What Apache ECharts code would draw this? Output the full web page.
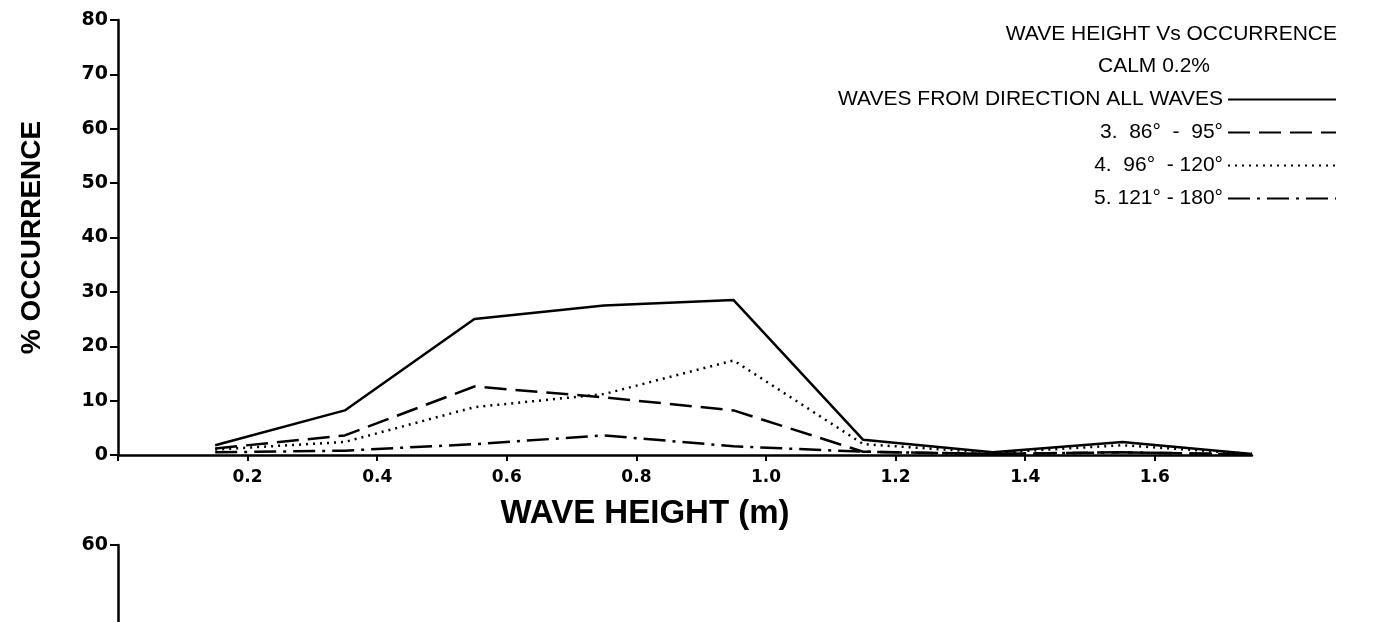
<!DOCTYPE html>
<html>
<head>
<meta charset="utf-8">
<script src="https://cdn.jsdelivr.net/npm/echarts@6/dist/echarts.min.js"></script>
<style>
  html, body { margin: 0; padding: 0; background: #fff; }
  #chart { width: 1378px; height: 622px; }
</style>
</head>
<body>
<div id="chart"></div>
<script>
// wave height bins (m) and % occurrence per direction
var heights = [0.15, 0.35, 0.55, 0.75, 0.95, 1.15, 1.35, 1.55, 1.75]
var allWaves = [1.8, 8.2, 25.0, 27.5, 28.5, 2.8, 0.5, 2.4, 0.2]
var dir86to95 = [1.2, 3.6, 12.6, 10.6, 8.2, 0.6, 0.2, 0.5, 0.1]
var dir96to120 = [1.0, 2.4, 8.8, 11.2, 17.4, 2.0, 0.4, 1.8, 0.2]
var dir121to180 = [0.5, 0.8, 2.0, 3.6, 1.6, 0.6, 0.2, 0.5, 0.1]

var seriesNames = [
  'WAVES FROM DIRECTION ALL WAVES',
  '3.  86°  -  95°',
  '4.  96°  - 120°',
  '5. 121° - 180°'
]
var seriesValues = [allWaves, dir86to95, dir96to120, dir121to180]
var dashTypes = ['solid', [22, 9], [2, 5], [22, 7, 3, 7]]

var font = 'Liberation Sans, Arial, sans-serif'
var tickFont = 'DejaVu Sans, Liberation Sans, sans-serif'

function pairs(values) {
  return heights.map(function(h, i) { return [h, values[i]] })
}

var chart = echarts.init(document.getElementById('chart'))

var series = seriesNames.map(function(name, i) {
  return {
    name: name,
    type: 'line',
    xAxisIndex: 0,
    yAxisIndex: 0,
    symbol: 'none',
    data: pairs(seriesValues[i]),
    lineStyle: { color: '#000', width: 2.5, type: dashTypes[i] },
    itemStyle: { color: '#000' }
  }
})

var axisStyle = { color: '#000', width: 2.5 }
var tickStyle = { color: '#000', width: 2 }
var labelStyle = { color: '#000', fontFamily: tickFont, fontSize: 19, fontWeight: 'bold' }

var option = {
  animation: false,
  backgroundColor: '#fff',
  textStyle: { fontFamily: font, color: '#000' },
  title: [
    {
      text: 'WAVE HEIGHT Vs OCCURRENCE',
      right: 36,
      top: 19,
      textStyle: { fontFamily: font, fontSize: 21, fontWeight: 'normal', color: '#000' }
    },
    {
      text: 'CALM 0.2%',
      left: 1093,
      top: 51,
      textStyle: { fontFamily: font, fontSize: 21, fontWeight: 'normal', color: '#000' }
    }
  ],
  legend: {
    orient: 'vertical',
    right: 36,
    top: 84,
    align: 'right',
    itemWidth: 108,
    itemHeight: 14,
    itemGap: 12,
    selectedMode: false,
    data: seriesNames,
    itemStyle: { opacity: 0 },
    lineStyle: { width: 2 },
    textStyle: { fontFamily: font, fontSize: 21, color: '#000' }
  },
  grid: [
    { left: 118, right: 126, top: 20, bottom: 167, containLabel: false },
    { left: 118, right: 126, top: 545, bottom: -30, containLabel: false }
  ],
  xAxis: [
    {
      type: 'value',
      gridIndex: 0,
      min: 0,
      max: 1.75,
      interval: 0.2,
      name: 'WAVE HEIGHT (m)',
      nameLocation: 'middle',
      nameGap: 42,
      nameTextStyle: { fontFamily: font, fontSize: 33, fontWeight: 'bold', color: '#000', padding: [0, 80, 0, 0] },
      splitLine: { show: false },
      axisLine: { lineStyle: axisStyle },
      axisTick: { lineStyle: tickStyle, length: 6 },
      axisLabel: {
        color: '#000',
        fontFamily: tickFont,
        fontSize: 17,
        fontWeight: 'bold',
        margin: 14,
        showMaxLabel: false,
        formatter: function(v) { return v === 0 ? '' : v.toFixed(1) }
      }
    },
    { type: 'value', gridIndex: 1, show: false, min: 0, max: 1.75 }
  ],
  yAxis: [
    {
      type: 'value',
      gridIndex: 0,
      min: 0,
      max: 80,
      interval: 10,
      name: '% OCCURRENCE',
      nameLocation: 'middle',
      nameGap: 72,
      nameTextStyle: { fontFamily: font, fontSize: 28, fontWeight: 'bold', color: '#000' },
      splitLine: { show: false },
      axisLine: { show: true, lineStyle: axisStyle },
      axisTick: { show: true, length: 8, lineStyle: tickStyle },
      axisLabel: Object.assign({ margin: 10 }, labelStyle)
    },
    {
      type: 'value',
      gridIndex: 1,
      min: 50,
      max: 60,
      interval: 10,
      splitLine: { show: false },
      axisLine: { show: true, lineStyle: axisStyle },
      axisTick: { show: true, length: 8, lineStyle: tickStyle },
      axisLabel: Object.assign({ margin: 10, showMinLabel: false }, labelStyle)
    }
  ],
  series: series
}

chart.setOption(option)
</script>
</body>
</html>
